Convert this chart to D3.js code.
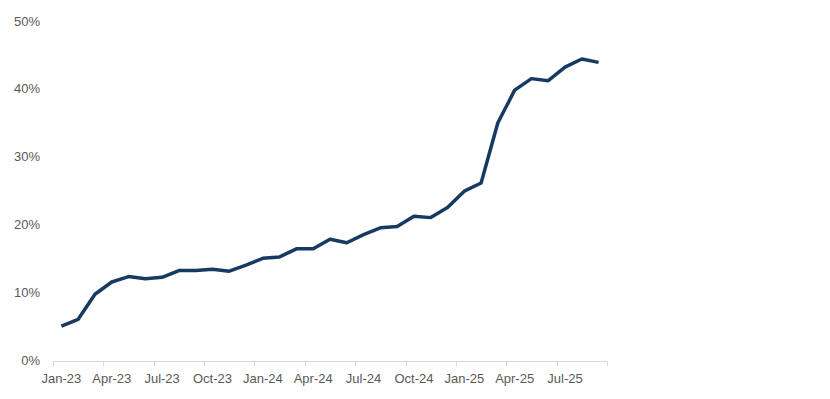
<!DOCTYPE html>
<html>
<head>
<meta charset="utf-8">
<script src="https://cdn.jsdelivr.net/npm/d3@7"></script>
<style>
  body { margin: 0; background: #fff; }
  text { font-family: "Liberation Sans", Arial, sans-serif; }
</style>
</head>
<body>
<div id="chart"></div>
<script>
// monthly categories Jan-23 .. Sep-25
const months = ["Jan-23","Feb-23","Mar-23","Apr-23","May-23","Jun-23","Jul-23","Aug-23","Sep-23","Oct-23","Nov-23","Dec-23",
                "Jan-24","Feb-24","Mar-24","Apr-24","May-24","Jun-24","Jul-24","Aug-24","Sep-24","Oct-24","Nov-24","Dec-24",
                "Jan-25","Feb-25","Mar-25","Apr-25","May-25","Jun-25","Jul-25","Aug-25","Sep-25"];
const values = [5.0, 6.0, 9.7, 11.5, 12.3, 12.0, 12.2, 13.2, 13.2, 13.4, 13.1, 14.0,
                15.0, 15.2, 16.4, 16.4, 17.8, 17.3, 18.5, 19.5, 19.7, 21.2, 21.0, 22.5,
                24.9, 26.1, 35.0, 39.8, 41.5, 41.2, 43.2, 44.4, 43.9];
const yTicks = [0, 10, 20, 30, 40, 50];

const width = 830, height = 399;
const margin = {top: 21, left: 53, right: 223, bottom: 38};

const svg = d3.select("#chart").append("svg")
    .attr("width", width)
    .attr("height", height);

const x = d3.scaleBand()
    .domain(months)
    .range([margin.left, width - margin.right]);

const y = d3.scaleLinear()
    .domain([0, 50])
    .range([height - margin.bottom - 1, margin.top]);

// y labels (no axis line)
svg.append("g").selectAll("text").data(yTicks)
    .enter()
    .append("text")
    .attr("x", 40)
    .attr("y", d => y(d))
    .attr("dy", "0.35em")
    .attr("text-anchor", "end")
    .attr("fill", "#595959")
    .style("font-size", "13px")
    .text(d => d + "%");

// x axis: ticks on category boundaries every 3 months
const axisY = y(0) + 1.5;
svg.append("line")
    .attr("x1", x.range()[0]).attr("x2", x.range()[1])
    .attr("y1", axisY).attr("y2", axisY)
    .attr("stroke", "#d9d9d9").attr("stroke-width", 1);

const tickIdx = d3.range(0, months.length + 1, 3);
svg.append("g").selectAll("line").data(tickIdx)
    .enter()
    .append("line")
    .attr("x1", i => Math.round(margin.left + i * x.bandwidth()) + 0.5)
    .attr("x2", i => Math.round(margin.left + i * x.bandwidth()) + 0.5)
    .attr("y1", axisY).attr("y2", axisY + 5)
    .attr("stroke", "#d9d9d9");

svg.append("g").selectAll("text").data(months.filter((m, i) => i % 3 === 0))
    .enter()
    .append("text")
    .attr("x", d => x(d) + x.bandwidth() / 2)
    .attr("y", axisY + 21)
    .attr("text-anchor", "middle")
    .attr("fill", "#595959")
    .style("font-size", "13px")
    .text(d => d);

const line = d3.line()
    .x((d, i) => x(months[i]) + x.bandwidth() / 2)
    .y(d => y(d));

svg.append("path")
    .datum(values)
    .attr("d", line)
    .attr("fill", "none")
    .attr("stroke", "#173a63")
    .attr("stroke-width", 3.5)
    .attr("stroke-linejoin", "round");
</script>
</body>
</html>
